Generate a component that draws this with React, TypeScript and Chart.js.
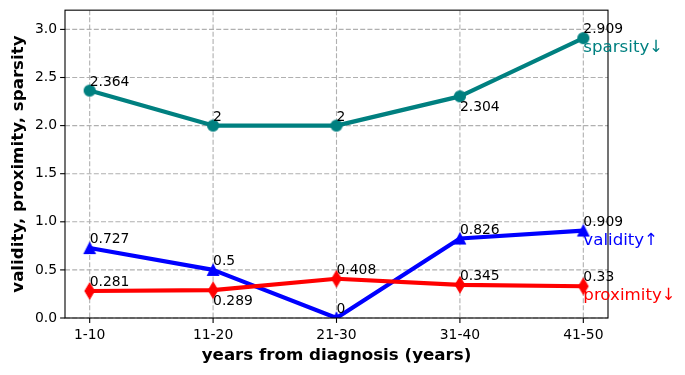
import React, { useEffect, useRef } from "react";
import { Chart, registerables } from "chart.js";

Chart.register(...registerables);

const categories = ["1-10", "11-20", "21-30", "31-40", "41-50"];
const validity = [0.727, 0.5, 0, 0.826, 0.909];
const proximity = [0.281, 0.289, 0.408, 0.345, 0.33];
const sparsity = [2.364, 2, 2, 2.304, 2.909];
const yTicks = [0, 0.5, 1, 1.5, 2, 2.5, 3];

const seriesNames = ["sparsity↓", "proximity↓", "validity↑"];
const seriesColors = ["#008080", "#ff0000", "#0000ff"];

// label placement (true = label below the point)
const belowFlags = [
  [false, false, false, true, false],
  [false, true, false, false, false],
  [false, false, false, false, false],
];

const FONT = "'DejaVu Sans', sans-serif";

function makeMarker(shape: string, color: string): HTMLCanvasElement {
  const c = document.createElement("canvas");
  c.width = 24;
  c.height = 24;
  const g = c.getContext("2d")!;
  g.fillStyle = color;
  g.strokeStyle = color;
  g.lineWidth = 1.1;
  g.lineJoin = "miter";
  g.beginPath();
  const cx = 12, cy = 12;
  if (shape === "circle") {
    g.arc(cx, cy, 5.55, 0, Math.PI * 2);
  } else if (shape === "triangle") {
    g.moveTo(cx, cy - 5.55);
    g.lineTo(cx - 5.55, cy + 5.55);
    g.lineTo(cx + 5.55, cy + 5.55);
    g.closePath();
  } else {
    g.moveTo(cx, cy - 7.85);
    g.lineTo(cx + 4.71, cy);
    g.lineTo(cx, cy + 7.85);
    g.lineTo(cx - 4.71, cy);
    g.closePath();
  }
  g.fill();
  g.stroke();
  return c;
}

const mplPlugin = {
  id: "mpl",
  beforeDraw(chart: any) {
    const { ctx } = chart;
    ctx.save();
    ctx.fillStyle = "#ffffff";
    ctx.fillRect(0, 0, chart.width, chart.height);
    ctx.restore();
  },
  beforeDatasetsDraw(chart: any) {
    const { ctx, chartArea: a, scales } = chart;
    const x = scales.x, y = scales.y;
    ctx.save();
    ctx.strokeStyle = "#b0b0b0";
    ctx.lineWidth = 1.1;
    ctx.setLineDash([5, 2.2]);
    categories.forEach((_, i) => {
      const px = x.getPixelForValue(i);
      ctx.beginPath();
      ctx.moveTo(px, a.top);
      ctx.lineTo(px, a.bottom);
      ctx.stroke();
    });
    yTicks.forEach((v) => {
      const py = y.getPixelForValue(v);
      ctx.beginPath();
      ctx.moveTo(a.left, py);
      ctx.lineTo(a.right, py);
      ctx.stroke();
    });
    ctx.restore();
  },
  afterDatasetsDraw(chart: any) {
    const { ctx, chartArea: a, scales } = chart;
    const x = scales.x, y = scales.y;
    ctx.save();
    // frame
    ctx.strokeStyle = "#000000";
    ctx.lineWidth = 1.1;
    ctx.setLineDash([]);
    ctx.strokeRect(a.left, a.top, a.right - a.left, a.bottom - a.top);
    // ticks
    categories.forEach((_, i) => {
      const px = x.getPixelForValue(i);
      ctx.beginPath();
      ctx.moveTo(px, a.bottom);
      ctx.lineTo(px, a.bottom + 4.9);
      ctx.stroke();
    });
    yTicks.forEach((v) => {
      const py = y.getPixelForValue(v);
      ctx.beginPath();
      ctx.moveTo(a.left, py);
      ctx.lineTo(a.left - 4.9, py);
      ctx.stroke();
    });
    // value labels
    const all = [sparsity, proximity, validity];
    ctx.font = `13.9px ${FONT}`;
    ctx.textAlign = "left";
    all.forEach((arr, s) => {
      arr.forEach((v, i) => {
        const px = x.getPixelForValue(i);
        const label = String(v);
        ctx.textBaseline = "alphabetic";
        ctx.fillStyle = "#000000";
        if (belowFlags[s][i]) {
          const py = y.getPixelForValue(v - 0.05);
          const m = ctx.measureText("0");
          ctx.fillText(label, px, py + m.actualBoundingBoxAscent);
        } else {
          const py = y.getPixelForValue(v + 0.05);
          ctx.fillText(label, px, py);
        }
      });
    });
    // series labels
    ctx.font = `16.67px ${FONT}`;
    all.forEach((arr, s) => {
      const last = arr.length - 1;
      const px = x.getPixelForValue(last);
      const py = y.getPixelForValue(arr[last]);
      const m = ctx.measureText(seriesNames[s]);
      ctx.fillStyle = seriesColors[s];
      ctx.textBaseline = "alphabetic";
      ctx.fillText(seriesNames[s], px, py + m.actualBoundingBoxAscent + 1);
    });
    ctx.restore();
  },
};

export default function App() {
  const ref = useRef<HTMLCanvasElement | null>(null);
  useEffect(() => {
    if (!ref.current) return;
    const toPts = (arr: number[]) => arr.map((v, i) => ({ x: i, y: v }));
    const mk = (data: number[], color: string, shape: string) => ({
      data: toPts(data),
      borderColor: color,
      backgroundColor: color,
      borderWidth: 4.17,
      borderJoinStyle: "round" as const,
      borderCapStyle: "butt" as const,
      pointStyle: makeMarker(shape, color),
      pointRadius: 6,
      pointHoverRadius: 6,
      tension: 0,
    });
    const chart = new Chart(ref.current, {
      type: "line",
      data: {
        datasets: [
          mk(sparsity, seriesColors[0], "circle"),
          mk(proximity, seriesColors[1], "diamond"),
          mk(validity, seriesColors[2], "triangle"),
        ],
      },
      options: {
        animation: false,
        responsive: false,
        events: [],
        layout: { padding: { left: 0, top: 10, right: 77, bottom: 0 } },
        plugins: { legend: { display: false }, tooltip: { enabled: false } },
        scales: {
          x: {
            type: "linear",
            min: -0.2,
            max: 4.2,
            afterBuildTicks: (s: any) => {
              s.ticks = categories.map((_, i) => ({ value: i }));
            },
            afterFit: (s: any) => {
              s.height = 57;
              s.paddingLeft = 0;
              s.paddingRight = 0;
            },
            ticks: {
              callback: (v: any) => categories[v] ?? "",
              font: { family: FONT, size: 13.9 },
              color: "#000000",
              padding: 9,
              maxRotation: 0,
              autoSkip: false,
            },
            grid: { display: false, drawTicks: false },
            border: { display: false },
            title: {
              display: true,
              text: "years from diagnosis (years)",
              font: { family: FONT, size: 16.67, weight: "bold" },
              color: "#000000",
              padding: { top: 0, bottom: 9 },
            },
          },
          y: {
            type: "linear",
            min: 0,
            max: 3.2,
            afterBuildTicks: (s: any) => {
              s.ticks = yTicks.map((v) => ({ value: v }));
            },
            afterFit: (s: any) => {
              s.width = 65;
              s.paddingTop = 0;
              s.paddingBottom = 0;
            },
            ticks: {
              callback: (v: any) => Number(v).toFixed(1),
              font: { family: FONT, size: 13.9 },
              color: "#000000",
              padding: 8,
              autoSkip: false,
            },
            grid: { display: false, drawTicks: false },
            border: { display: false },
            title: {
              display: true,
              text: "validity, proximity, sparsity",
              font: { family: FONT, size: 16.67, weight: "bold" },
              color: "#000000",
              padding: { top: 9, bottom: 0 },
            },
          },
        },
      },
      plugins: [mplPlugin],
    });
    return () => chart.destroy();
  }, []);
  return (
    <div style={{ position: "absolute", left: 0, top: 0, width: 685, height: 375, background: "#fff" }}>
      <canvas ref={ref} width={685} height={375} style={{ display: "block" }} />
    </div>
  );
}
